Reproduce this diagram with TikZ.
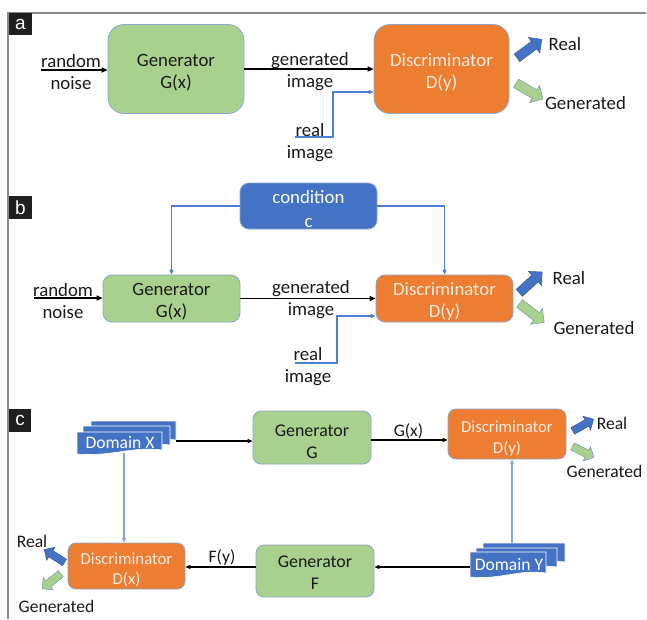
\documentclass[tikz,border=0pt]{standalone}
\usepackage{fontspec}
\setmainfont{Carlito}
\newfontfamily\lblfont{Liberation Sans}
\usetikzlibrary{shapes.arrows,arrows.meta}
\definecolor{gfill}{HTML}{A9D18E}
\definecolor{ofill}{HTML}{ED7D31}
\definecolor{bfill}{HTML}{4472C4}
\definecolor{bline}{HTML}{4A7FD4}
\definecolor{cline}{HTML}{7FA7E0}
\definecolor{bord}{HTML}{8FA6C6}
\definecolor{framecol}{HTML}{8A8A8A}
\definecolor{dtext}{HTML}{FDEBDD}
\definecolor{tcol}{HTML}{1A1A1A}
\definecolor{garrline}{HTML}{7E9FB0}
\begin{document}
\begin{tikzpicture}[x=1pt,y=-1pt,
  fab/.style={font=\fontsize{18.8}{22}\selectfont},
  fcg/.style={font=\fontsize{17.9}{22}\selectfont},
  fcd/.style={font=\fontsize{16.8}{21}\selectfont},
  fc/.style={font=\fontsize{17.6}{21}\selectfont},
  txt/.style={inner sep=0pt, align=center, text=tcol},
  gbox/.style={fill=gfill, draw=bord, line width=0.8pt, inner sep=0pt},
  dbox/.style={fill=ofill, draw=bord, line width=0.8pt, inner sep=0pt},
  cbox/.style={fill=bfill, draw=bord, line width=0.8pt, inner sep=0pt},
  lab/.style={fill=black!88, text=white, minimum size=22.5pt, inner sep=0pt, font=\lblfont\fontsize{19}{19}\selectfont},
  karrow/.style={draw=black, line width=1.8pt, -{Triangle[length=6pt,width=5pt]}},
  karrowc/.style={draw=black, line width=1.2pt, -{Triangle[length=5pt,width=4pt]}},
  barrow/.style={draw=bline, line width=1.5pt, -{Triangle[length=5pt,width=4pt]}},
  carrow/.style={draw=cline, line width=1.2pt, -{Triangle[length=4.5pt,width=3.5pt]}},
  realarr/.style={single arrow, fill=bfill, draw=bfill!75!black, line width=0.4pt, inner xsep=0pt, inner ysep=4.5pt, single arrow head extend=5pt, minimum height=31pt, single arrow head indent=0pt},
  genarr/.style={single arrow, fill=gfill, draw=garrline, line width=0.6pt, inner xsep=0pt, inner ysep=4.5pt, single arrow head extend=5pt, minimum height=31pt, single arrow head indent=0pt},
  realarrc/.style={realarr, inner ysep=3.6pt, single arrow head extend=4pt, minimum height=24pt},
  genarrc/.style={genarr, inner ysep=3.6pt, single arrow head extend=4pt, minimum height=24pt},
  doc/.style={fill=bfill, draw=white, line width=0.6pt}
]
\useasboundingbox (0,0) rectangle (647,619);
\fill[white] (0,0) rectangle (647,619);
% frame
\draw[framecol, line width=1.5pt] (646,13) -- (8,13) -- (8,619);

% ---------------- panel a
\node[lab] (la) at (20.5,24) {a};
\node[gbox, rounded corners=16pt, minimum width=136pt, minimum height=89pt] (ga) at (176,69) {};
\node[txt, fab] (gat) at (176,73) {Generator\\G(x)};
\node[dbox, rounded corners=16pt, minimum width=135pt, minimum height=89pt] (da) at (441.5,69) {};
\node[txt, fab, text=dtext] (dat) at (441.5,73) {Discriminator\\D(y)};
\node[txt, fab] (rna) at (71,72.5) {random\\noise};
\coordinate (rnas) at (41,70);
\draw[karrow] (rnas) -- (rnas -| ga.west);
\draw[karrow] (ga) -- (da);
\node[txt, fab] (gia) at (310,72) {generated\\image};
\node[txt, fab] (ria) at (310,142.5) {real\\image};
\coordinate (rias) at (295,137);
\coordinate (raj) at (333,92);
\draw[barrow] (rias) -| (raj) -- (raj -| da.west);
\node[realarr, rotate=36.5] (rra) at (527.5,50) {};
\node[txt, fab] (rta) at (565,44) {Real};
\node[genarr, rotate=-30] (gra) at (527.5,90) {};
\node[txt, fab] (gta) at (585.5,103) {Generated};

% ---------------- panel b
\node[lab] (lb) at (20.5,207.5) {b};
\node[cbox, rounded corners=9pt, minimum width=137pt, minimum height=46pt] (cb) at (308.5,206) {};
\node[txt, font=\fontsize{18.8}{24}\selectfont, text=white] (cbt) at (308.5,209) {condition\\c};
\node[gbox, rounded corners=9pt, minimum width=137pt, minimum height=47pt] (gb) at (171.5,298.5) {};
\node[txt, fab] (gbt) at (171.5,302) {Generator\\G(x)};
\node[dbox, rounded corners=9pt, minimum width=137pt, minimum height=47pt] (db) at (444.5,298.5) {};
\node[txt, fab, text=dtext] (dbt) at (444.5,301.5) {Discriminator\\D(y)};
\draw[barrow] (cb.west) -| (gb.north);
\draw[barrow] (cb.east) -| (db.north);
\node[txt, fab] (rnb) at (63,301) {random\\noise};
\coordinate (rnbs) at (34,298);
\draw[karrow] (rnbs) -- (rnbs -| gb.west);
\draw[karrow] (gb) -- (db);
\node[txt, fab] (gib) at (311,300) {generated\\image};
\node[txt, fab] (rib) at (308,366.5) {real\\image};
\coordinate (ribs) at (295,363);
\coordinate (rbj) at (337,316);
\draw[barrow] (ribs) -| (rbj) -- (rbj -| db.west);
\node[realarr, rotate=42.5] (rrb) at (529,284) {};
\node[txt, fab] (rtb) at (569,278) {Real};
\node[genarr, rotate=-37.7] (grb) at (530,311.5) {};
\node[txt, fab] (gtb) at (594,328) {Generated};

% ---------------- panel c
\node[lab] (lc) at (20,420.5) {c};
% Domain X stack
\path[doc] (91,421) -- (176,421) -- (176,440) .. controls (146,436) and (125,447) .. (91,444) -- cycle;
\path[doc] (83,426) -- (170,426) -- (170,445) .. controls (140,441) and (118,452) .. (83,449) -- cycle;
\path[doc] (77,432) -- (162,432) -- (162,450) .. controls (132,446) and (111,457) .. (77,454) -- cycle;
\node[txt, fc, text=white] (dx) at (120,442) {Domain X};
% Domain Y stack
\path[doc] (483,543) -- (565,543) -- (565,562) .. controls (536,558) and (516,569) .. (483,566) -- cycle;
\path[doc] (476,548) -- (557,548) -- (557,567) .. controls (528,563) and (508,574) .. (476,571) -- cycle;
\path[doc] (470,552) -- (546,552) -- (546,573) .. controls (519,569) and (500,580) .. (470,577) -- cycle;
\node[txt, fc, text=white] (dy) at (509,564) {Domain Y};

\node[gbox, rounded corners=8pt, minimum width=118pt, minimum height=53pt] (gg) at (312,437.5) {};
\node[txt, fcg] (ggt) at (312,441.5) {Generator\\G};
\node[dbox, rounded corners=8pt, minimum width=118pt, minimum height=50pt] (dyc) at (507,434) {};
\node[txt, fcd, text=dtext] (dyct) at (507,438.5) {Discriminator\\D(y)};
\node[gbox, rounded corners=8pt, minimum width=118pt, minimum height=52pt] (gf) at (315,571) {};
\node[txt, fcg] (gft) at (315,572.5) {Generator\\F};
\node[dbox, rounded corners=8pt, minimum width=117pt, minimum height=46pt] (dxc) at (126.5,566) {};
\node[txt, font=\fontsize{16.8}{20}\selectfont, text=dtext] (dxct) at (126.5,569.5) {Discriminator\\D(x)};

\coordinate (dxe) at (176,441);
\draw[karrowc] (dxe) -- (dxe -| gg.west);
\coordinate (gxa) at (371,440);
\draw[karrowc] (gxa -| gg.east) -- (gxa -| dyc.west);
\node[txt, fc] (gxl) at (408.5,431) {G(x)};
\coordinate (dyw) at (470,567);
\draw[karrowc] (dyw) -- (dyw -| gf.east);
\coordinate (fya) at (256,567);
\draw[karrowc] (fya -| gf.west) -- (fya -| dxc.east);
\node[txt, fc] (fyl) at (222,557) {F(y)};
\coordinate (dxs) at (124,453);
\draw[carrow] (dxs) -- (dxs |- dxc.north);
\coordinate (dyn) at (512,543);
\draw[carrow] (dyn) -- (dyn |- dyc.south);

\node[realarrc, rotate=29.5] (rrc) at (581.5,426) {};
\node[txt, fc] (rtc) at (612,423) {Real};
\node[genarrc, rotate=-27.5] (grc) at (581.5,451) {};
\node[txt, fc] (gtc) at (604.5,471) {Generated};
\node[realarrc, rotate=147.5] (rrd) at (56,557) {};
\node[txt, fc] (rtd) at (32,541) {Real};
\node[genarrc, rotate=218.7] (grd) at (53,580) {};
\node[txt, fc] (gtd) at (56.5,606) {Generated};
\end{tikzpicture}
\end{document}
